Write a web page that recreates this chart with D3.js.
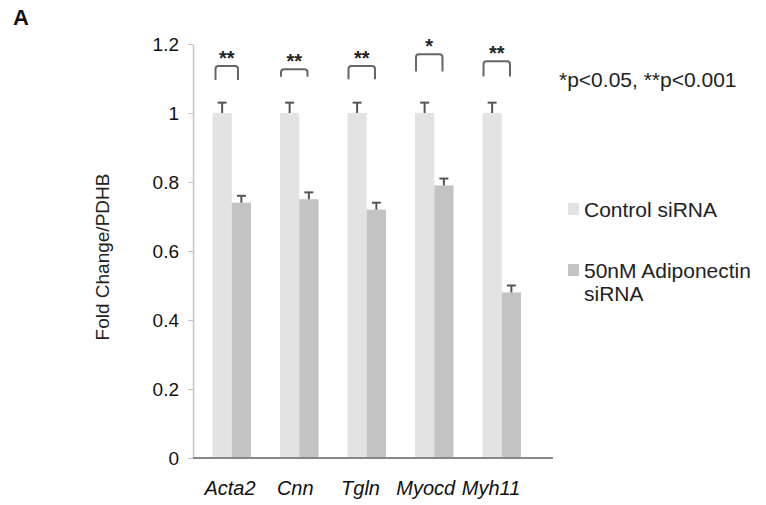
<!DOCTYPE html>
<html>
<head>
<meta charset="utf-8">
<script src="https://cdn.jsdelivr.net/npm/d3@7"></script>
<style>
  body { margin: 0; background: #fff; }
  text { font-family: "Liberation Sans", Arial, sans-serif; }
</style>
</head>
<body>
<div id="chart"></div>
<script>
var genes = ["Acta2", "Cnn", "Tgln", "Myocd", "Myh11"];
var controlValues = [1, 1, 1, 1, 1];
var controlErrors = [0.03, 0.03, 0.03, 0.03, 0.03];
var siValues = [0.74, 0.75, 0.72, 0.79, 0.48];
var siErrors = [0.02, 0.02, 0.02, 0.02, 0.02];
var stars = ["**", "**", "**", "*", "**"];
var bracketTop = [1.136, 1.127, 1.136, 1.17, 1.15]; // bracket height in data units
var bracketLeg = [0.04, 0.022, 0.038, 0.05, 0.044];
var yTicks = [0, 0.2, 0.4, 0.6, 0.8, 1, 1.2];
var seriesNames = ["Control siRNA", "50nM Adiponectin siRNA"];
var colors = ["#e3e3e3", "#c3c3c3"];

var width = 766, height = 505;

var svg = d3.select("#chart").append("svg")
    .attr("width", width)
    .attr("height", height);

var y = d3.scaleLinear().domain([0, 1.2]).range([458, 44]);
var x = d3.scaleBand().domain(genes).range([198, 535.5]).paddingInner(0.43).paddingOuter(0.215);
// category labels are squeezed a little to the left, as in the original
var xLab = d3.scalePoint().domain(genes).range([230, 491]);
var barW = x.bandwidth() / 2;

// y axis
var yAxis = d3.axisLeft(y).tickValues(yTicks).tickSize(5).tickSizeOuter(0)
    .tickFormat(function(d) { return d3.format("")(d); });
var gy = svg.append("g").attr("transform", "translate(193,0)").call(yAxis);
gy.select(".domain").attr("stroke", "#c4c4c4").attr("stroke-width", 1.5);
gy.selectAll(".tick line").attr("stroke", "#c4c4c4");
gy.selectAll(".tick text")
    .attr("x", -14)
    .style("font-size", "19px")
    .style("fill", "#111");

// bars
var groups = svg.selectAll(".grp")
    .data(genes)
    .enter().append("g")
    .attr("class", "grp");

groups.append("rect")
    .attr("x", function(d) { return x(d); })
    .attr("y", function(d, i) { return y(controlValues[i]); })
    .attr("width", barW)
    .attr("height", function(d, i) { return y(0) - y(controlValues[i]); })
    .style("fill", colors[0]);

groups.append("rect")
    .attr("x", function(d) { return x(d) + barW; })
    .attr("y", function(d, i) { return y(siValues[i]); })
    .attr("width", barW)
    .attr("height", function(d, i) { return y(0) - y(siValues[i]); })
    .style("fill", colors[1]);

// error bars (upper only)
function errBar(cx, v, e) {
    svg.append("line")
        .attr("x1", cx).attr("x2", cx)
        .attr("y1", y(v)).attr("y2", y(v + e))
        .style("stroke", "#555").style("stroke-width", 2);
    svg.append("line")
        .attr("x1", cx - 4.5).attr("x2", cx + 4.5)
        .attr("y1", y(v + e)).attr("y2", y(v + e))
        .style("stroke", "#555").style("stroke-width", 2);
}
genes.forEach(function(g, i) {
    errBar(x(g) + barW / 2, controlValues[i], controlErrors[i]);
    errBar(x(g) + barW * 1.5, siValues[i], siErrors[i]);
});

// x axis
svg.append("line")
    .attr("x1", 193).attr("x2", 553)
    .attr("y1", y(0)).attr("y2", y(0))
    .style("stroke", "#888").style("stroke-width", 2);

svg.selectAll(".xlab")
    .data(genes)
    .enter().append("text")
    .attr("x", function(d) { return xLab(d); })
    .attr("y", 495)
    .attr("text-anchor", "middle")
    .style("font-size", "20px")
    .style("font-style", "italic")
    .style("fill", "#111")
    .text(function(d) { return d; });

// significance brackets
genes.forEach(function(g, i) {
    var x0 = x(g) + 3, x1 = x(g) + 2 * barW - 13;
    if (i > 0) { x0 = x(g) + 1; x1 = x(g) + 2 * barW - 11; }
    var yt = y(bracketTop[i]), yb = y(bracketTop[i] - bracketLeg[i]);
    var r = 3;
    svg.append("path")
        .attr("d", "M" + x0 + "," + yb + " L" + x0 + "," + (yt + r) +
            " Q" + x0 + "," + yt + " " + (x0 + r) + "," + yt +
            " L" + (x1 - r) + "," + yt +
            " Q" + x1 + "," + yt + " " + x1 + "," + (yt + r) +
            " L" + x1 + "," + yb)
        .style("fill", "none")
        .style("stroke", "#666")
        .style("stroke-width", 2);
    svg.append("text")
        .attr("x", (x0 + x1) / 2)
        .attr("y", yt - 1)
        .attr("text-anchor", "middle")
        .style("font-size", "20px")
        .style("font-weight", "bold")
        .style("fill", "#222")
        .text(stars[i]);
});

// y label
svg.append("text")
    .attr("transform", "translate(109,257) rotate(-90)")
    .attr("text-anchor", "middle")
    .style("font-size", "19px")
    .style("fill", "#222")
    .text("Fold Change/PDHB");

// panel letter
svg.append("text")
    .attr("x", 13).attr("y", 25)
    .style("font-size", "22px")
    .style("font-weight", "bold")
    .style("fill", "#111")
    .text("A");

// p-value note
svg.append("text")
    .attr("x", 559).attr("y", 87)
    .style("font-size", "21px")
    .style("fill", "#222")
    .text("*p<0.05, **p<0.001");

// legend
var legY = [209, 270];
seriesNames.forEach(function(s, i) {
    svg.append("rect")
        .attr("x", 568).attr("y", legY[i] - 6)
        .attr("width", 11).attr("height", 12)
        .style("fill", colors[i]);
    var t = svg.append("text")
        .attr("x", 584).attr("y", legY[i] + 8)
        .style("font-size", "21px")
        .style("fill", "#222");
    if (i === 0) {
        t.text(s);
    } else {
        t.append("tspan").text("50nM Adiponectin");
        t.append("tspan").attr("x", 584).attr("dy", 23).text("siRNA");
    }
});
</script>
</body>
</html>
